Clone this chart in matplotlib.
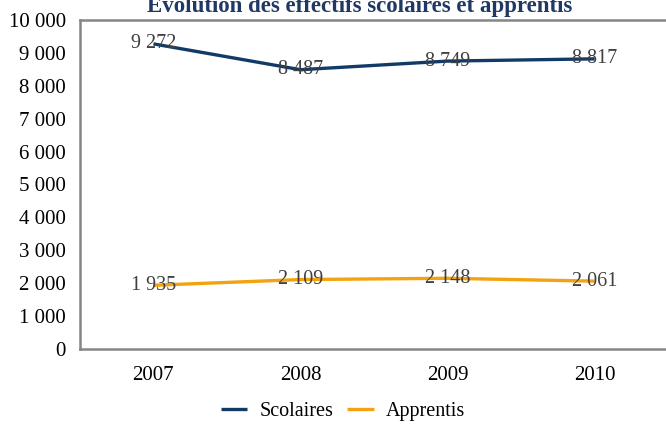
import matplotlib.pyplot as plt
import numpy as np

years = ["2007", "2008", "2009", "2010"]
scolaires = [9272, 8487, 8749, 8817]
apprentis = [1935, 2109, 2148, 2061]
yticks = [0, 1000, 2000, 3000, 4000, 5000, 6000, 7000, 8000, 9000, 10000]

plt.rcParams['font.family'] = ['Liberation Serif', 'DejaVu Serif']


def fmt(v):
    return "{:,}".format(v).replace(",", " ")


fig = plt.figure(figsize=(6.66, 4.24), dpi=100)
ax = fig.add_axes([0.120, 0.177, 0.883, 0.776])

x = np.arange(len(years))
ax.plot(x, scolaires, color="#123a66", lw=2.4, label="Scolaires", solid_capstyle="butt")
ax.plot(x, apprentis, color="#f2a30f", lw=2.4, label="Apprentis", solid_capstyle="butt")

for xi, v in zip(x, scolaires):
    ax.text(xi, v, fmt(v), ha="center", va="center", fontsize=14.5, color="#404040")
for xi, v in zip(x, apprentis):
    ax.text(xi, v, fmt(v), ha="center", va="center", fontsize=14.5, color="#404040")

ax.set_xlim(-0.5, 3.5)
ax.set_ylim(0, 10000)
ax.set_xticks(x)
ax.set_xticklabels(years, fontsize=15)
ax.set_yticks(yticks)
ax.set_yticklabels([fmt(v) for v in yticks], fontsize=15)
ax.tick_params(length=0, pad=10)
ax.tick_params(axis="x", pad=12)

for s in ax.spines.values():
    s.set_color("#858585")
    s.set_linewidth(1.8)

fig.text(0.54, 0.99, "Évolution des effectifs scolaires et apprentis", ha="center",
         va="center", fontsize=16.5, fontweight="bold", color="#1f3864")

fig.legend(loc="center", bbox_to_anchor=(0.515, 0.03), ncol=2, frameon=False,
           fontsize=14.5, handlelength=1.3, columnspacing=0.7, handletextpad=0.6)

fig.savefig("out.png", dpi=100)
